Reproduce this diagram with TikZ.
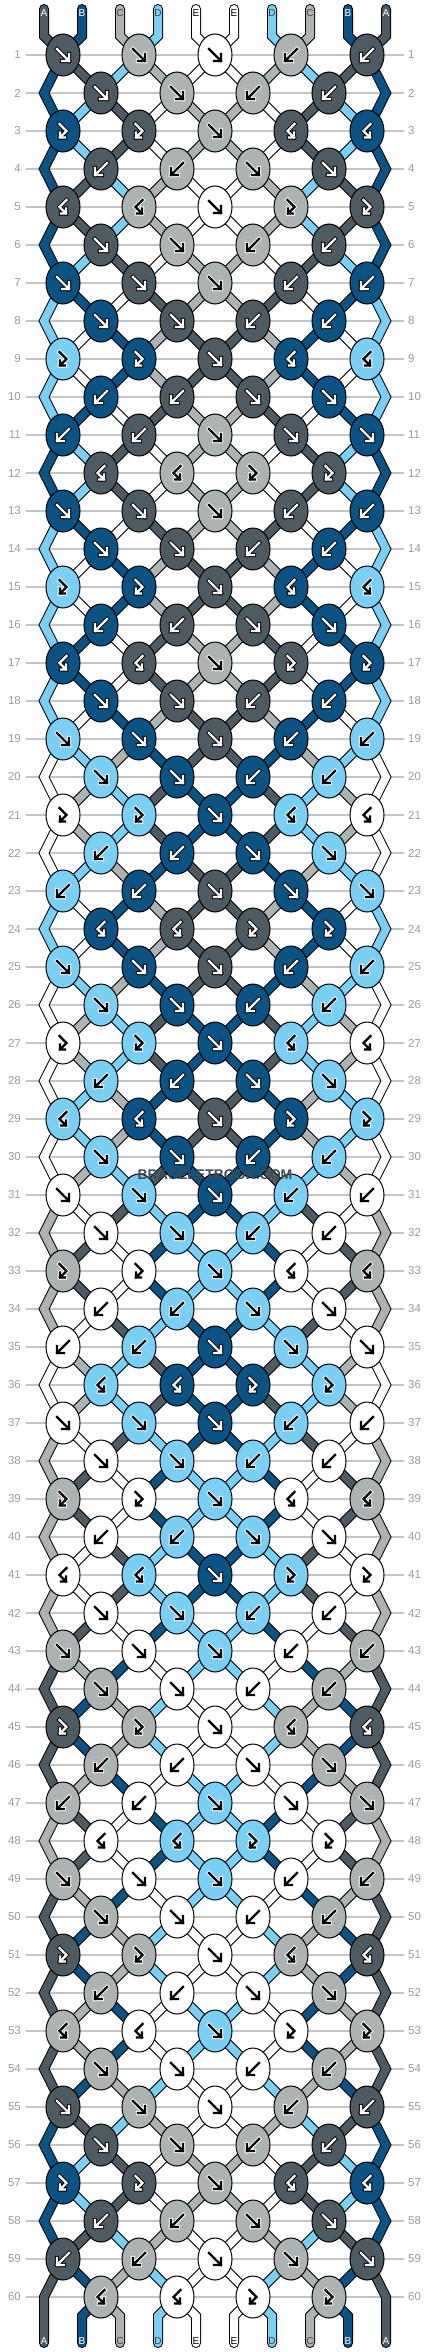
\documentclass[tikz,border=0pt]{standalone}
\usepackage{fontspec}
\setmainfont{Liberation Sans}
\usetikzlibrary{shapes.geometric}

\definecolor{cA}{HTML}{4F5B62}
\definecolor{cB}{HTML}{0B5384}
\definecolor{cC}{HTML}{ADB2B2}
\definecolor{cD}{HTML}{7ACFF5}
\definecolor{cE}{HTML}{FFFFFF}
\colorlet{aA}{white}\colorlet{aB}{white}\colorlet{aC}{black}\colorlet{aD}{black}\colorlet{aE}{black}
\colorlet{oA}{black}\colorlet{oB}{black}\colorlet{oC}{white}\colorlet{oD}{white}\colorlet{oE}{white}
\colorlet{tA}{white}\colorlet{tB}{white}\colorlet{tC}{black!75}\colorlet{tD}{black!75}\colorlet{tE}{black}
\definecolor{numgray}{HTML}{9A9A9A}
\definecolor{linegray}{HTML}{C4C4C4}
\definecolor{stampgray}{HTML}{3E4A50}

\pgfdeclarelayer{rows}
\pgfdeclarelayer{threads}
\pgfsetlayers{rows,threads,main}

% knot kinds: F forward, B backward, FB forward-backward, BF backward-forward
\def\mirF{B}\def\mirB{F}\def\mirFB{BF}\def\mirBF{FB}
\def\sideF{L}\def\sideFB{L}\def\sideB{R}\def\sideBF{R}
\def\swapF{1}\def\swapB{1}\def\swapFB{0}\def\swapBF{0}

% left half of each row, right half is mirrored
\def\rowkinds{F,F,FB,B,BF,F,F,F,FB,B,B,BF,
  F,F,FB,B,BF,F,F,F,FB,B,B,BF,
  F,F,FB,B,BF,F,F,F,FB,B,B,BF,
  F,F,FB,B,BF,F,F,F,FB,B,B,BF,
  F,F,FB,B,BF,F,F,F,FB,B,B,BF}

\newcommand\glyphF[3]{\draw[glyph,draw=#3,double=#2,shift={(#1.center)}]
  (-6,-6) -- (6,6) (6,-1) -- (6,6) -- (-1,6);}
\newcommand\glyphB[3]{\draw[glyph,draw=#3,double=#2,shift={(#1.center)}]
  (6,-6) -- (-6,6) (-6,-1) -- (-6,6) -- (1,6);}
\newcommand\glyphFB[3]{\draw[glyph,draw=#3,double=#2,shift={(#1.center)}]
  (-3.5,-7) -- (3.5,0) -- (-3,6.5) (-3,1.5) -- (-3,6.5) -- (2,6.5);}
\newcommand\glyphBF[3]{\draw[glyph,draw=#3,double=#2,shift={(#1.center)}]
  (3.5,-7) -- (-3.5,0) -- (3,6.5) (3,1.5) -- (3,6.5) -- (-2,6.5);}

\tikzset{
  knot/.style={ellipse,draw=black,line width=1pt,minimum width=34pt,minimum height=42pt,inner sep=0pt},
  thread/.style={draw=black,line width=1pt,double distance=8pt,line cap=round,line join=miter},
  glyph/.style={line width=0.9pt,double distance=2.4pt,line cap=rect,line join=miter},
  lbl/.style={font=\fontsize{10}{10}\selectfont,inner sep=0pt},
  rownum/.style={font=\fontsize{11.5}{11.5}\selectfont,text=numgray,inner sep=0pt},
  rowline/.style={draw=linegray,line width=1.3pt},
  stamp/.style={font=\bfseries\fontsize{14}{14}\selectfont,text=stampgray,inner sep=0pt}
}

\begin{document}
\begin{tikzpicture}[x=1pt,y=-1pt]
  \useasboundingbox (0,0) rectangle (430,2352);

  % top ends of the strings
  \foreach \ltr [count=\sn] in {A,B,C,D,E,E,D,C,B,A} {
    \pgfmathsetmacro\xs{44+38*(\sn-1)}
    \node[lbl,text=t\ltr] (t\sn) at (\xs,13) {\ltr};
    \coordinate (u\sn) at (\xs,36);
    \expandafter\xdef\csname th\sn\endcsname{\ltr}
  }

  % knots, row by row
  \foreach \kind [count=\rw] in \rowkinds {
    \pgfmathsetmacro\y{55+38*(\rw-1)}
    \node[rownum,anchor=east] (nl\rw) at (21,\y) {\rw};
    \node[rownum,anchor=west] (nr\rw) at (408,\y) {\rw};
    \ifodd\rw
      \def\plist{1,3,5,7,9}
    \else
      \def\plist{2,4,6,8}
      \coordinate (e\rw-1) at (44,\y);
      \coordinate (e\rw-10) at (386,\y);
    \fi
    \foreach \ps in \plist {
      \pgfmathtruncatemacro\qs{\ps+1}
      \pgfmathsetmacro\x{63+38*(\ps-1)}
      \ifnum\ps<5 \edef\kk{\kind}\else\ifnum\ps=5 \def\kk{F}\else\edef\kk{\csname mir\kind\endcsname}\fi\fi
      \edef\lthr{\csname th\ps\endcsname}
      \edef\rthr{\csname th\qs\endcsname}
      \expandafter\xdef\csname inL\rw-\ps\endcsname{\lthr}
      \expandafter\xdef\csname inR\rw-\ps\endcsname{\rthr}
      \if L\csname side\kk\endcsname \let\kc\lthr \else \let\kc\rthr \fi
      \node[knot,fill=c\kc] (k\rw-\ps) at (\x,\y) {};
      \csname glyph\kk\endcsname{k\rw-\ps}{a\kc}{o\kc}
      \if 1\csname swap\kk\endcsname
        \expandafter\xdef\csname th\ps\endcsname{\rthr}
        \expandafter\xdef\csname th\qs\endcsname{\lthr}
      \fi
    }
  }

  % bottom ends of the strings
  \foreach \sn in {1,...,10} {
    \edef\ltr{\csname th\sn\endcsname}
    \pgfmathsetmacro\xs{44+38*(\sn-1)}
    \node[lbl,text=t\ltr] (b\sn) at (\xs,2341) {\ltr};
    \coordinate (v\sn) at (\xs,2316);
  }

  \begin{pgfonlayer}{rows}
    \foreach \rw in {1,...,60}
      \draw[rowline] (nl\rw.east) ++(5,0) -- ([xshift=-4pt]nr\rw.west);
  \end{pgfonlayer}

  % threads between the knots
  \begin{pgfonlayer}{threads}
    \foreach \rw in {1,...,60} {
      \pgfmathtruncatemacro\pr{\rw-1}
      \pgfmathtruncatemacro\prr{\rw-2}
      \ifodd\rw \def\plist{1,3,5,7,9}\else\def\plist{2,4,6,8}\fi
      \foreach \ps in \plist {
        \pgfmathtruncatemacro\qs{\ps+1}
        \pgfmathtruncatemacro\pl{\ps-1}
        \edef\lthr{\csname inL\rw-\ps\endcsname}
        \edef\rthr{\csname inR\rw-\ps\endcsname}
        \ifnum\rw=1
          \draw[thread,double=c\lthr] ([yshift=4pt]t\ps.center) -- (u\ps) -- (k\rw-\ps.center);
          \draw[thread,double=c\rthr] ([yshift=4pt]t\qs.center) -- (u\qs) -- (k\rw-\ps.center);
        \else
          \ifnum\ps=1
            \draw[thread,double=c\lthr] (k\prr-1.center) -- (e\pr-1) -- (k\rw-1.center);
          \else
            \draw[thread,double=c\lthr] (k\pr-\pl.center) -- (k\rw-\ps.center);
          \fi
          \ifnum\qs=10
            \draw[thread,double=c\rthr] (k\prr-9.center) -- (e\pr-10) -- (k\rw-9.center);
          \else
            \draw[thread,double=c\rthr] (k\pr-\qs.center) -- (k\rw-\ps.center);
          \fi
        \fi
      }
    }
    \foreach \sn in {1,...,10} {
      \edef\ltr{\csname th\sn\endcsname}
      \pgfmathtruncatemacro\pk{2*int(\sn/2)}
      \ifnum\sn=1
        \draw[thread,double=c\ltr] (k59-1.center) -- (e60-1) -- ([yshift=-2pt]b1.center);
      \else\ifnum\sn=10
        \draw[thread,double=c\ltr] (k59-9.center) -- (e60-10) -- ([yshift=-2pt]b10.center);
      \else
        \draw[thread,double=c\ltr] (k60-\pk.center) -- (v\sn) -- ([yshift=-2pt]b\sn.center);
      \fi\fi
    }
  \end{pgfonlayer}

  \node[stamp] (wm) at (215,1175) {BRACELETBOOK.COM};
\end{tikzpicture}
\end{document}
